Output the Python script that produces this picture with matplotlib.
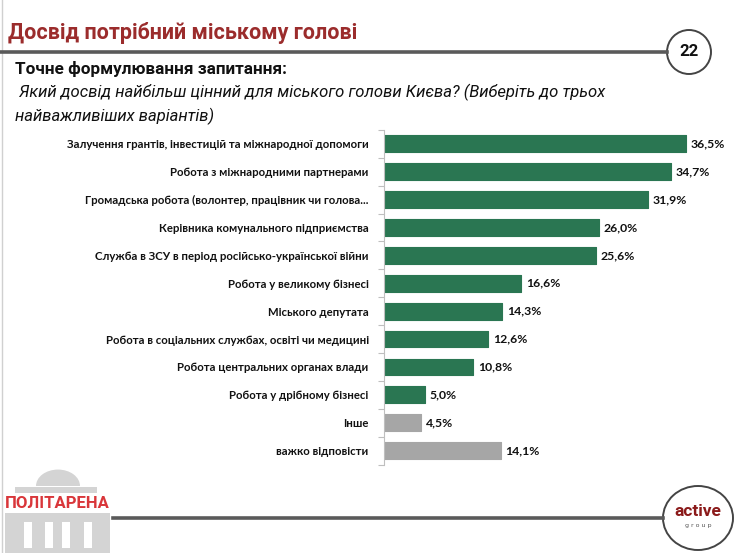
import matplotlib
matplotlib.use("Agg")
import matplotlib.pyplot as plt
from matplotlib.patches import Rectangle, Ellipse, Wedge
from matplotlib.lines import Line2D

categories = [
    "Залучення грантів, інвестицій та міжнародної допомоги",
    "Робота з міжнародними партнерами",
    "Громадська робота (волонтер, працівник чи голова...",
    "Керівника комунального підприємства",
    "Служба в ЗСУ в період російсько-української війни",
    "Робота у великому бізнесі",
    "Міського депутата",
    "Робота в соціальних службах, освіті чи медицині",
    "Робота центральних органах влади",
    "Робота у дрібному бізнесі",
    "Інше",
    "важко відповісти",
]
values = [36.5, 34.7, 31.9, 26.0, 25.6, 16.6, 14.3, 12.6, 10.8, 5.0, 4.5, 14.1]
value_labels = ["36,5%", "34,7%", "31,9%", "26,0%", "25,6%", "16,6%", "14,3%",
                "12,6%", "10,8%", "5,0%", "4,5%", "14,1%"]
is_gray = [False] * 10 + [True, True]

title = "Досвід потрібний міському голові"
page_no = "22"
subtitle = "Точне формулювання запитання:"
question1 = " Який досвід найбільш цінний для міського голови Києва? (Виберіть до трьох"
question2 = "найважливіших варіантів)"

GREEN = "#2A7652"
GRAY = "#A6A6A6"
W, H = 740, 553
NARROW = "Roboto"

fig = plt.figure(figsize=(7.4, 5.53), dpi=100)


def P(x, y):
    return (x / W, 1 - y / H)


# axes for bars
left, right = 384 / W, 715 / W
top, bottom = 1 - 129.8 / H, 1 - 464.6 / H
ax = fig.add_axes([left, bottom, right - left, top - bottom])
ypos = list(range(len(categories)))
colors = [GRAY if g else GREEN for g in is_gray]
ax.barh(ypos, values, height=0.6, color=colors, edgecolor=colors,
        linewidth=0.8, joinstyle="round")
ax.set_xlim(0, 40)
ax.set_ylim(len(categories) - 0.5, -0.5)
for s in ["top", "right", "bottom"]:
    ax.spines[s].set_visible(False)
ax.spines["left"].set_color("#BFBFBF")
ax.spines["left"].set_linewidth(0.8)
ax.set_xticks([])
ax.set_yticks(ypos)
ax.set_yticklabels(categories, fontfamily="Lato", fontweight="bold",
                   fontsize=8.2, color="#111111")
ax.tick_params(axis="y", which="major", length=0, pad=11)
ax.set_yticks([i - 0.5 for i in range(len(categories) + 1)], minor=True)
ax.tick_params(axis="y", which="minor", length=4, color="#BFBFBF", width=0.8)
for y, v, lab in zip(ypos, values, value_labels):
    ax.text(v + 0.55, y, lab, va="center", ha="left", fontfamily="Lato",
            fontweight="bold", fontsize=8.8, color="#111111")

# left border
fig.add_artist(Line2D([2 / W, 2 / W], [0, 1], color="#D0D0D0", lw=1))

# header
fig.text(*P(8, 33), title, fontfamily=NARROW, fontweight="bold",
         fontsize=15.5, color="#9B2C2C", va="center", ha="left")
fig.add_artist(Line2D([0, 667 / W], [1 - 52 / H, 1 - 52 / H], color="#5A5A5A", lw=2.6))
cx, cy = P(689, 52)
fig.add_artist(Ellipse((cx, cy), 44 / W, 44 / H, facecolor="white",
                       edgecolor="#444444", lw=1.4, transform=fig.transFigure))
fig.text(cx, cy, page_no, fontfamily=NARROW, fontweight="bold", fontsize=12,
         ha="center", va="center", color="#111111")

fig.text(*P(15, 69), subtitle, fontfamily=NARROW, fontweight="bold",
         fontsize=12.3, color="#111111", va="center", ha="left")
fig.text(*P(15, 92), question1, fontfamily=NARROW, fontstyle="italic",
         fontsize=12, color="#111111", va="center", ha="left")
fig.text(*P(15, 116), question2, fontfamily=NARROW, fontstyle="italic",
         fontsize=12, color="#111111", va="center", ha="left")

# footer line and active group circle
fig.add_artist(Line2D([113 / W, 663 / W], [1 - 518 / H, 1 - 518 / H], color="#5A5A5A", lw=2.6))
ax2, ay2 = P(698, 518)
fig.add_artist(Ellipse((ax2, ay2), 70 / W, 64 / H, facecolor="white",
                       edgecolor="#444444", lw=1.4, transform=fig.transFigure))
fig.text(ax2, 1 - 511 / H, "active", fontfamily=NARROW, fontweight="bold",
         fontsize=12.5, ha="center", va="center", color="#8B1A1A")
fig.text(ax2, 1 - 526 / H, "g r o u p", fontfamily="DejaVu Sans",
         fontsize=4.5, ha="center", va="center", color="#555555")

# ПОЛІТАРЕНА logo
LG = "#D4D4D4"
fig.add_artist(Wedge(P(58, 486), 22 / W, 0, 180, facecolor=LG, edgecolor="none",
                     transform=fig.transFigure))
fig.add_artist(Rectangle(P(15, 493), 82 / W, 6 / H, facecolor=LG, edgecolor="none",
                         transform=fig.transFigure))
fig.add_artist(Rectangle(P(5, 553), 105 / W, 40 / H, facecolor=LG, edgecolor="none",
                         transform=fig.transFigure))
for xx in [24, 45, 62, 84]:
    fig.add_artist(Rectangle(P(xx, 548), 8 / W, 26 / H, facecolor="white",
                             edgecolor="none", transform=fig.transFigure))
fig.add_artist(Rectangle(P(3, 512), 110 / W, 17 / H, facecolor="white", edgecolor="none",
                         transform=fig.transFigure))
fig.text(*P(57, 503), "ПОЛІТАРЕНА", fontfamily=NARROW, fontweight="bold",
         fontsize=12, color="#D9363A", ha="center", va="center")

fig.savefig("out.png", dpi=100)
